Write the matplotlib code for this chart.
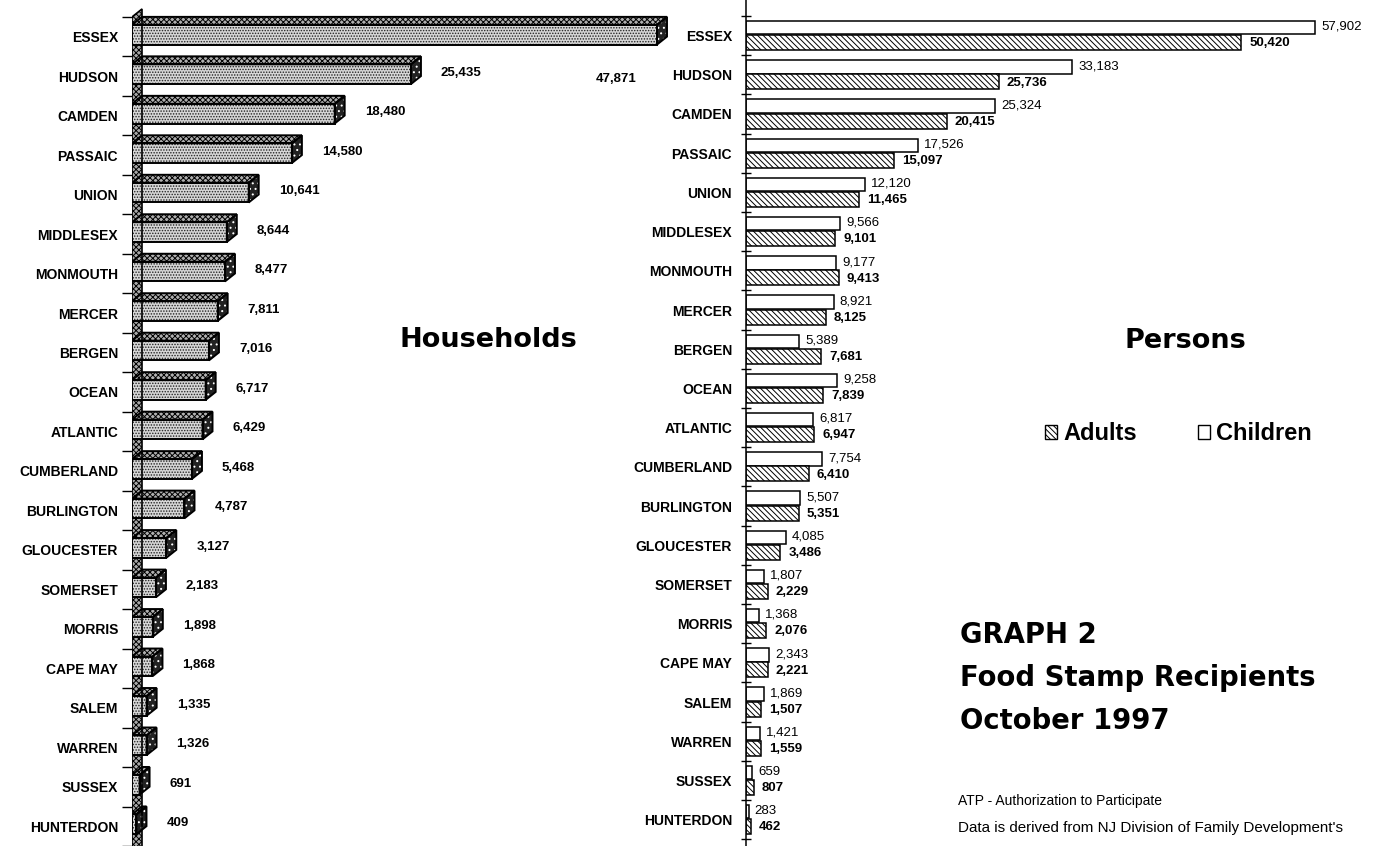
import matplotlib
matplotlib.use("Agg")
import matplotlib.pyplot as plt
from matplotlib.patches import Polygon, Patch

plt.rcParams['font.family'] = ['Liberation Sans', 'DejaVu Sans']
plt.rcParams['hatch.linewidth'] = 0.7

counties = ["ESSEX", "HUDSON", "CAMDEN", "PASSAIC", "UNION", "MIDDLESEX", "MONMOUTH",
            "MERCER", "BERGEN", "OCEAN", "ATLANTIC", "CUMBERLAND", "BURLINGTON",
            "GLOUCESTER", "SOMERSET", "MORRIS", "CAPE MAY", "SALEM", "WARREN",
            "SUSSEX", "HUNTERDON"]
households = [47871, 25435, 18480, 14580, 10641, 8644, 8477, 7811, 7016, 6717, 6429,
              5468, 4787, 3127, 2183, 1898, 1868, 1335, 1326, 691, 409]
children = [57902, 33183, 25324, 17526, 12120, 9566, 9177, 8921, 5389, 9258, 6817,
            7754, 5507, 4085, 1807, 1368, 2343, 1869, 1421, 659, 283]
adults = [50420, 25736, 20415, 15097, 11465, 9101, 9413, 8125, 7681, 7839, 6947,
          6410, 5351, 3486, 2229, 2076, 2221, 1507, 1559, 807, 462]

W, H = 1377, 846
fig = plt.figure(figsize=(W / 100, H / 100), dpi=100)


def px_axes(x0, w):
    return fig.add_axes([x0 / W, 0, w / W, 1])


def outline(ax, pts, lw=1.4):
    ax.add_patch(Polygon(pts, closed=True, fill=False, edgecolor='black', lw=lw, zorder=4))


# ---------------- Households (3D bars) ----------------
axL = px_axes(132, 560)
unitL = 47871 / 525
rowL = 39.6
axL.set_xlim(0, 560 * unitL)
axL.set_ylim((H - 17) / rowL - 0.5, -17 / rowL - 0.5)
dx = 10 * unitL
dy = 8 / rowL

# back wall along the axis
wall = [(0, -0.5), (dx, -0.5 - dy), (dx, 22), (0, 22)]
axL.add_patch(Polygon(wall, closed=True, facecolor='#aaaaaa', edgecolor='black',
                      hatch='xxxxxx', lw=0, zorder=1))
outline(axL, wall, lw=1.2)

for i, v in enumerate(households):
    top = i - 0.3
    bot = i + 0.2
    front = [(0, top), (v, top), (v, bot), (0, bot)]
    roof = [(0, top), (dx, top - dy), (v + dx, top - dy), (v, top)]
    side = [(v, top), (v + dx, top - dy), (v + dx, bot - dy), (v, bot)]
    axL.add_patch(Polygon(front, closed=True, facecolor='#d6d6d6', edgecolor='#222222',
                          hatch='......', lw=0, zorder=2))
    axL.add_patch(Polygon(roof, closed=True, facecolor='#b0b0b0', edgecolor='black',
                          hatch='xxxxxx', lw=0, zorder=2))
    axL.add_patch(Polygon(side, closed=True, facecolor='#222222', edgecolor='white',
                          hatch='...', lw=0, zorder=2))
    outline(axL, front)
    outline(axL, roof)
    outline(axL, side)
    if i == 0:
        axL.text(v - 20 * unitL, i + 1.08, f"{v:,}", ha='right', va='center',
                 fontsize=9.5, fontweight='bold')
    else:
        axL.text(v + 30 * unitL, i - 0.08, f"{v:,}", ha='left', va='center',
                 fontsize=9.5, fontweight='bold')

axL.set_yticks(range(len(counties)))
axL.set_yticklabels(counties, fontsize=10, fontweight='bold')
axL.set_yticks([k - 0.5 for k in range(len(counties) + 1)], minor=True)
axL.tick_params(axis='y', which='major', length=0, pad=10)
axL.tick_params(axis='y', which='minor', length=7, width=1, direction='out')
axL.set_xticks([])
for s in axL.spines.values():
    s.set_visible(False)
axL.patch.set_visible(False)

# ---------------- Persons (adults / children) ----------------
axR = px_axes(746, 631)
unitR = 57902 / 569
rowR = 39.2
axR.set_xlim(0, 631 * unitR)
axR.set_ylim((H - 16) / rowR - 0.5, -16 / rowR - 0.5)
ypos = list(range(len(counties)))
axR.barh([y - 0.2 for y in ypos], children, height=0.34, color='white',
         edgecolor='black', lw=1.1, zorder=2)
axR.barh([y + 0.18 for y in ypos], adults, height=0.38, color='white',
         edgecolor='black', hatch='\\\\\\\\\\\\', lw=1.1, zorder=2)
for y, c, a in zip(ypos, children, adults):
    axR.text(c + 6 * unitR, y - 0.22, f"{c:,}", ha='left', va='center', fontsize=9.5)
    axR.text(a + 8 * unitR, y + 0.2, f"{a:,}", ha='left', va='center', fontsize=9.5,
             fontweight='bold')

axR.set_yticks(ypos)
axR.set_yticklabels(counties, fontsize=10, fontweight='bold')
axR.set_yticks([k - 0.5 for k in range(len(counties) + 1)], minor=True)
axR.tick_params(axis='y', which='major', length=0, pad=10)
axR.tick_params(axis='y', which='minor', length=7, width=1, direction='inout')
axR.set_xticks([])
for name in ('top', 'right', 'bottom'):
    axR.spines[name].set_visible(False)
axR.spines['left'].set_linewidth(1.1)
axR.patch.set_visible(False)

# ---------------- text ----------------
heavy = dict(family='DejaVu Sans', fontweight='bold')
fig.text(488 / W, 1 - 340 / H, "Households", ha='center', va='center', fontsize=19.5, **heavy)
fig.text(1185 / W, 1 - 341 / H, "Persons", ha='center', va='center', fontsize=19.5, **heavy)

for k, line in enumerate(["GRAPH 2", "Food Stamp Recipients", "October 1997"]):
    fig.text(960 / W, 1 - (635 + 43 * k) / H, line, ha='left', va='center',
             fontsize=19.8, **heavy)

fig.text(958 / W, 1 - 801 / H, "ATP - Authorization to Participate", ha='left',
         va='center', fontsize=10)
fig.text(958 / W, 1 - 828 / H, "Data is derived from NJ Division of Family Development's",
         ha='left', va='center', fontsize=10.9)

handles = [Patch(facecolor='white', edgecolor='black', hatch='\\\\\\\\\\\\'),
           Patch(facecolor='white', edgecolor='black')]
fig.legend(handles, ["Adults", "Children"], loc='center left',
           bbox_to_anchor=(1024 / W, 1 - 434 / H), ncol=2, frameon=False,
           prop={'size': 17, 'weight': 'bold'}, handlelength=0.5, handleheight=0.5,
           handletextpad=0.25, columnspacing=2.6)

fig.savefig("out.png", dpi=100)
